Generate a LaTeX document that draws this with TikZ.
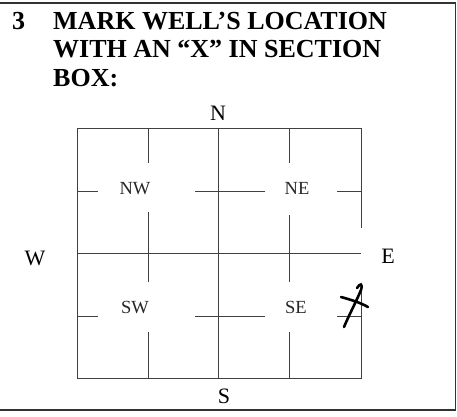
\documentclass[tikz,border=0pt]{standalone}
\usepackage{fontspec}
\setmainfont{Liberation Serif}
\begin{document}
\begin{tikzpicture}[x=1pt,y=-1pt,
  frame/.style={draw=black!80,line width=1.3pt},
  gridline/.style={draw=black!75,line width=0.9pt},
  head/.style={inner sep=0pt,anchor=base west,font=\fontsize{26}{28}\selectfont\bfseries},
  compass/.style={inner sep=0pt,anchor=base,font=\fontsize{22}{24}\selectfont},
  quarter/.style={inner sep=0pt,anchor=base,font=\fontsize{18.5}{20}\selectfont\color{black!85}},
  xstroke/.style={draw=black,line width=2.6pt,line cap=round}]
\useasboundingbox (0,0) rectangle (457,416);
% outer frame (top, right, bottom)
\draw[frame] (0,3) -- (455.5,3) -- (455.5,410) -- (0,410);
% heading
\node[head] (num) at (12,29) {3};
\node[head] (h1) at (53,29) {MARK WELL’S LOCATION};
\node[head] (h2) at (53,57) {WITH AN “X” IN SECTION};
\node[head] (h3) at (53,86) {BOX:};
% section box outline
\draw[gridline] (361,228) -- (361,128) -- (77,128) -- (77,378) -- (361,378) -- (361,285);
% middle lines
\draw[gridline] (218,128) -- (218,378);
\draw[gridline] (77,253) -- (361,253);
% quarter verticals
\draw[gridline] (148,128) -- (148,163);
\draw[gridline] (148,212) -- (148,282);
\draw[gridline] (148,332) -- (148,378);
\draw[gridline] (289,128) -- (289,163);
\draw[gridline] (289,215) -- (289,282);
\draw[gridline] (289,332) -- (289,378);
% quarter horizontals
\draw[gridline] (77,191) -- (98,191);
\draw[gridline] (195,191) -- (265,191);
\draw[gridline] (337,191) -- (361,191);
\draw[gridline] (77,316) -- (98,316);
\draw[gridline] (195,316) -- (265,316);
\draw[gridline] (337,316) -- (361,316);
% compass labels
\node[compass] (n) at (218,120) {N};
\node[compass] (s) at (224,403) {S};
\node[compass] (w) at (35,265) {W};
\node[compass] (e) at (388,263) {E};
% quarter labels
\node[quarter] (nw) at (135,194) {NW};
\node[quarter] (ne) at (297,194) {NE};
\node[quarter] (sw) at (135,313) {SW};
\node[quarter] (se) at (296,313) {SE};
% the hand-drawn X
\draw[xstroke] (357,288) .. controls (360,283) and (363,283) .. (361,290) .. controls (356,302) and (349,315) .. (344,327);
\draw[xstroke] (341,297) .. controls (352,300) and (361,303) .. (368,307);
\end{tikzpicture}
\end{document}
